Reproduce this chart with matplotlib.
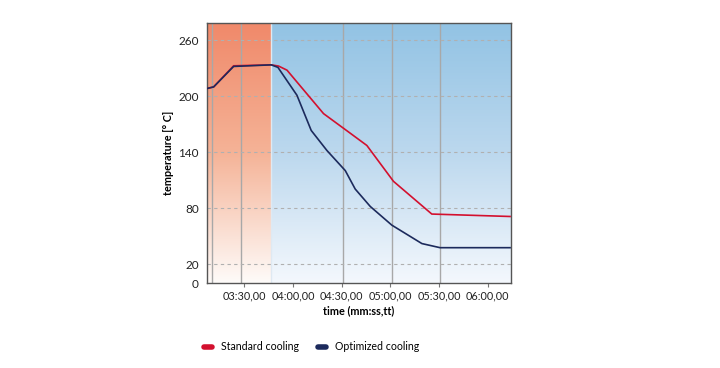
import numpy as np
import matplotlib.pyplot as plt
from matplotlib.colors import LinearSegmentedColormap
from matplotlib.lines import Line2D

plt.rcParams['font.family'] = ['Lato', 'DejaVu Sans']

# time in seconds, temperature in degC
std_t = [187.0, 191.1, 203.4, 226.6, 231.1, 236.3, 258.8, 275.2, 285.5, 301.9, 325.5, 373.7]
std_v = [208.2, 209.9, 232.5, 233.5, 232.2, 227.8, 181.3, 160.4, 147.2, 108.8, 73.8, 71.2]
opt_t = [187.0, 191.1, 203.4, 226.6, 230.7, 242.4, 251.2, 260.9, 272.2, 278.3, 287.6, 300.9, 319.4, 330.6, 373.7]
opt_v = [208.2, 209.9, 231.8, 233.5, 230.8, 201.0, 163.3, 141.8, 120.3, 100.6, 81.9, 61.9, 42.2, 37.8, 37.8]

xticks = [210, 240, 270, 300, 330, 360]
xlabels = ['03:30,00', '04:00,00', '04:30,00', '05:00,00', '05:30,00', '06:00,00']
yticks = [0, 20, 80, 140, 200, 260]
vgrid = [190.1, 208.0, 270.9, 300.7, 330.6]

x0, x1 = 187.0, 374.3
y0, y1 = 0, 278.3
heat_end = 226.6

fig = plt.figure(figsize=(7.2, 3.68), dpi=100)
ax = fig.add_axes([207/720, 85/368, 304/720, 260/368])

grad = np.linspace(1, 0, 256).reshape(-1, 1)
orange = LinearSegmentedColormap.from_list('o', ['#fefbf9', '#f5b397', '#f0896a'])
blue = LinearSegmentedColormap.from_list('b', ['#f4f8fd', '#bcd8ee', '#92c3e4'])
ax.imshow(grad, cmap=orange, aspect='auto', extent=[x0, heat_end, y0, y1], zorder=0, vmin=0, vmax=1)
ax.imshow(1 - grad[::-1], cmap=blue, aspect='auto', extent=[heat_end, x1, y0, y1], zorder=0, vmin=0, vmax=1)
ax.axvline(heat_end, color='#dfe9f2', lw=1, zorder=1)

for g in vgrid:
    ax.axvline(g, color='#a8a8a8', lw=1, zorder=1)
for y in yticks[1:]:
    ax.axhline(y, color='#b0b0b0', lw=0.8, ls=(0, (3, 3)), zorder=1)

ax.plot(std_t, std_v, color='#d3102e', lw=1.2, zorder=3)
ax.plot(opt_t, opt_v, color='#1c2a5c', lw=1.2, zorder=3)

ax.set_xlim(x0, x1)
ax.set_ylim(y0, y1)
ax.set_xticks(xticks)
ax.set_xticklabels(xlabels)
ax.set_yticks(yticks)
ax.tick_params(axis='both', labelsize=8.5, colors='#222222', length=3, color='#777777')
ax.tick_params(axis='x', labelsize=7.8, pad=2)
ax.tick_params(axis='y', length=0, pad=6)
for s in ax.spines.values():
    s.set_color('#555555')
    s.set_linewidth(1)

ax.set_xlabel('time (mm:ss,tt)', fontsize=7.8, fontweight='bold', labelpad=3)
ax.set_ylabel('temperature [° C]', fontsize=7.8, fontweight='bold', labelpad=3)

handles = [Line2D([], [], color='#d3102e', lw=4, solid_capstyle='round'),
           Line2D([], [], color='#1c2a5c', lw=4, solid_capstyle='round')]
fig.legend(handles, ['Standard cooling', 'Optimized cooling'], loc='center',
           bbox_to_anchor=(312/720, 1 - 347/368), ncol=2, frameon=False,
           fontsize=7.6, handlelength=0.7, columnspacing=1.8, handletextpad=0.9)

fig.savefig('out.png', dpi=100)
